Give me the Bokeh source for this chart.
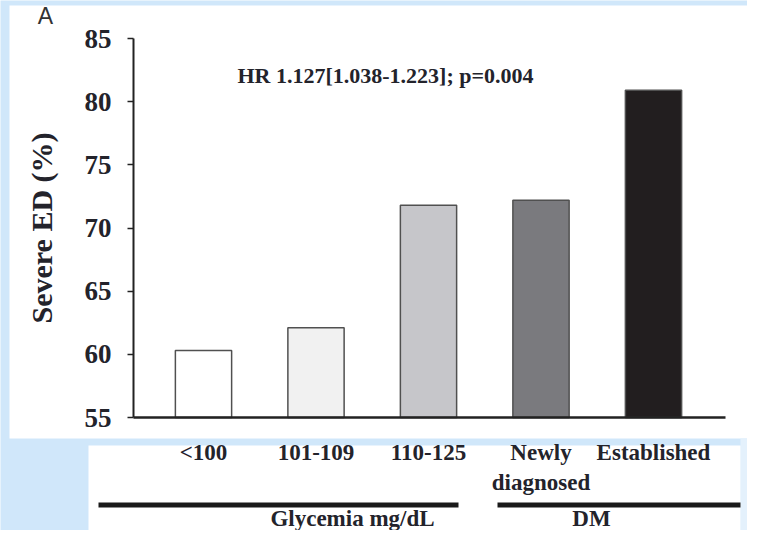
from bokeh.plotting import figure
from bokeh.models import Range1d, FixedTicker, Label, BoxAnnotation, LinearAxis
from bokeh.embed import file_html
from bokeh.resources import INLINE

# ---------------- data ----------------
categories = ["<100", "101-109", "110-125", "Newly\ndiagnosed", "Established"]
severe_ed = [60.3, 62.1, 71.8, 72.2, 80.9]
bar_colors = ["#ffffff", "#f1f1f1", "#c6c6ca", "#7a7a7e", "#221e1f"]
y_ticks = [55, 60, 65, 70, 75, 80, 85]
group_names = ["Glycemia mg/dL", "DM"]
hr_text = "HR 1.127[1.038-1.223]; p=0.004"
y_label = "Severe ED (%)"
panel_letter = "A"

# ---------------- layout (pixels of the canvas) ----------------
W, H = 747, 530
AX_L, AX_R, AX_T, AX_B = 133, 725, 38, 417      # plotting area drawn by the axes
X0_PX, X_STEP = 203, 112.5                       # first category centre, category spacing
y_start, y_end = 55, 85
sy = (AX_B - AX_T) / (y_end - y_start)


def dx(px):
    return (px - X0_PX) / X_STEP


def dy(py):
    return y_start + (AX_B - py) / sy


SERIF = "Liberation Serif"
TXT = "#23232b"
BLUE = "#d0e7fa"

p = figure(width=W, height=H, output_backend="svg", toolbar_location=None,
           x_range=Range1d(dx(0), dx(W)), y_range=Range1d(dy(H), dy(0)),
           x_axis_location=None, y_axis_location=None,
           min_border=0, min_border_left=0, min_border_right=0,
           min_border_top=0, min_border_bottom=0)
p.border_fill_color = BLUE
p.background_fill_color = BLUE
p.outline_line_color = None
p.grid.visible = False

# background panels
p.add_layout(BoxAnnotation(left=dx(9), right=dx(W + 5), top=dy(5), bottom=dy(438),
                           fill_color="white", fill_alpha=1, line_alpha=0, level="underlay"))
p.add_layout(BoxAnnotation(left=dx(740), right=dx(W + 5), top=dy(438), bottom=dy(H + 5),
                           fill_color="#e4f1fc", fill_alpha=1, line_alpha=0, level="underlay"))
p.add_layout(BoxAnnotation(left=dx(88), right=dx(740), top=dy(445), bottom=dy(H + 5),
                           fill_color="white", fill_alpha=1, line_alpha=0, level="underlay"))

# bars
xs = list(range(len(categories)))
p.vbar(x=xs, top=severe_ed, bottom=y_start, width=0.5, fill_color=bar_colors,
       line_color="#505050", line_width=1.5)

# axes
yaxis = LinearAxis(fixed_location=dx(AX_L), bounds=(y_start, y_end),
                   ticker=FixedTicker(ticks=y_ticks))
yaxis.axis_label = y_label
yaxis.axis_label_text_font = SERIF
yaxis.axis_label_text_font_style = "bold"
yaxis.axis_label_text_font_size = "30px"
yaxis.axis_label_text_color = TXT
yaxis.axis_label_standoff = 24
yaxis.major_label_text_font = SERIF
yaxis.major_label_text_font_style = "bold"
yaxis.major_label_text_font_size = "27px"
yaxis.major_label_text_color = TXT
yaxis.major_label_standoff = 16
yaxis.major_tick_out = 6
yaxis.major_tick_in = 0
yaxis.minor_tick_line_color = None
yaxis.axis_line_width = 2
yaxis.major_tick_line_width = 1.5
yaxis.axis_line_color = "#222222"
yaxis.major_tick_line_color = "#222222"
p.add_layout(yaxis, "left")

xaxis = LinearAxis(fixed_location=y_start, bounds=(dx(AX_L), dx(AX_R)),
                   ticker=FixedTicker(ticks=xs))
xaxis.major_label_overrides = {i: c for i, c in enumerate(categories)}
xaxis.major_label_text_font = SERIF
xaxis.major_label_text_font_style = "bold"
xaxis.major_label_text_font_size = "23px"
xaxis.major_label_text_color = TXT
xaxis.major_label_standoff = 22
xaxis.major_tick_out = 0
xaxis.major_tick_in = 0
xaxis.major_tick_line_color = None
xaxis.minor_tick_line_color = None
xaxis.axis_line_width = 2.5
xaxis.axis_line_color = "#222222"
p.add_layout(xaxis, "below")

# group brackets and names
for (l, r) in [(98, 458), (497, 740)]:
    p.add_layout(BoxAnnotation(left=dx(l), right=dx(r), top=dy(502), bottom=dy(507),
                               fill_color="#1a1a1a", fill_alpha=1, line_alpha=0))
for name, cx in zip(group_names, [352, 591]):
    p.add_layout(Label(x=dx(cx), y=dy(518), text=name, text_align="center",
                       text_baseline="middle", text_font=SERIF, text_font_style="bold",
                       text_font_size="23px", text_color=TXT))

# annotations
p.add_layout(Label(x=dx(385), y=dy(75), text=hr_text, text_align="center",
                   text_baseline="middle", text_font=SERIF, text_font_style="bold",
                   text_font_size="22px", text_color=TXT))
p.add_layout(Label(x=dx(45), y=dy(15), text=panel_letter, text_align="center",
                   text_baseline="middle", text_font="Liberation Sans",
                   text_font_size="23px", text_color="#333333"))

open("out.html", "w").write(file_html(p, INLINE))
